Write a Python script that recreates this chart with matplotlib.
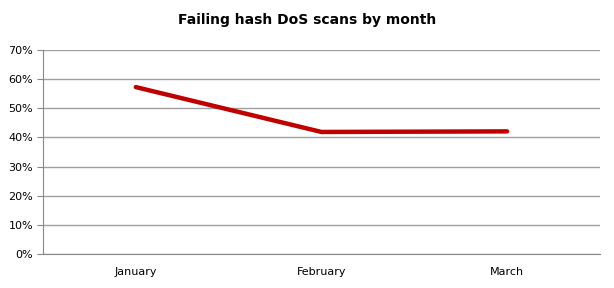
import matplotlib
matplotlib.use("Agg")
import matplotlib.pyplot as plt
from matplotlib.ticker import PercentFormatter

months = ["January", "February", "March"]
failing_pct = [57.3, 41.9, 42.1]

fig = plt.figure(figsize=(6.14, 2.88), dpi=100)
ax = fig.add_axes([0.070, 0.118, 0.907, 0.708])

x = range(len(months))
ax.plot(x, failing_pct, color="#C00000", linewidth=3.2, solid_capstyle="round")

ax.set_xlim(-0.5, 2.5)
ax.set_ylim(0, 70)
ax.set_yticks(range(0, 71, 10))
ax.yaxis.set_major_formatter(PercentFormatter(decimals=0))
ax.set_xticks(list(x))
ax.set_xticklabels(months)

ax.grid(axis="y", color="#a0a0a0", linewidth=1)
ax.set_axisbelow(True)
for side in ["top", "right"]:
    ax.spines[side].set_visible(False)
for side in ["left", "bottom"]:
    ax.spines[side].set_color("#888888")
ax.tick_params(axis="y", color="#888888", length=4, labelsize=8, pad=3)
ax.tick_params(axis="x", length=0, labelsize=8, pad=9)

fig.suptitle("Failing hash DoS scans by month", fontsize=10, fontweight="bold", y=0.955)

fig.savefig("out.png", dpi=100)
